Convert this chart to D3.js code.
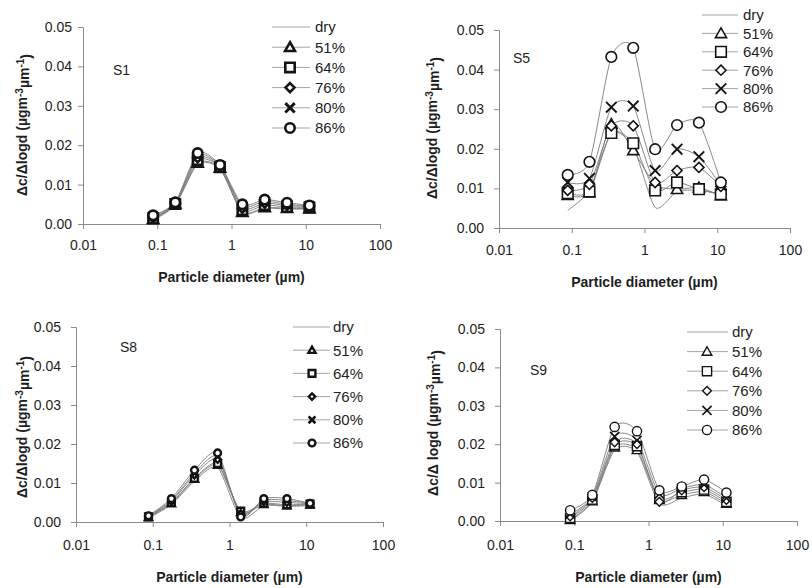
<!DOCTYPE html>
<html><head><meta charset="utf-8">
<script src="https://cdn.jsdelivr.net/npm/d3@7"></script>
<style>
html,body{margin:0;padding:0;background:#fff;}
svg{display:block;font-family:"Liberation Sans",Arial,sans-serif;}
</style></head>
<body>
<svg id="chart" width="812" height="588"></svg>
<script>
// ---------- DATA ----------
const diameters = [0.088, 0.175, 0.35, 0.7, 1.4, 2.8, 5.6, 11.2];
const seriesNames = ["dry", "51%", "64%", "76%", "80%", "86%"];
const xTickValues = [0.01, 0.1, 1, 10, 100];
const xTickLabels = ["0.01", "0.1", "1", "10", "100"];
const yTickValues = [0, 0.01, 0.02, 0.03, 0.04, 0.05];
const yTickLabels = ["0.00", "0.01", "0.02", "0.03", "0.04", "0.05"];
const panelNames = ["S1", "S5", "S8", "S9"];

const s1Values = [
  [0.0010, 0.0048, 0.0152, 0.0140, 0.0028, 0.0040, 0.0038, 0.0038],
  [0.0012, 0.0050, 0.0155, 0.0142, 0.0030, 0.0042, 0.0040, 0.0039],
  [0.0014, 0.0051, 0.0162, 0.0144, 0.0035, 0.0048, 0.0043, 0.0042],
  [0.0016, 0.0052, 0.0168, 0.0146, 0.0040, 0.0053, 0.0047, 0.0044],
  [0.0020, 0.0053, 0.0174, 0.0148, 0.0045, 0.0058, 0.0050, 0.0046],
  [0.0022, 0.0055, 0.0180, 0.0150, 0.0050, 0.0062, 0.0054, 0.0047]
];
const s5Values = [
  [0.0045, 0.0095, 0.0240, 0.0205, 0.0052, 0.0092, 0.0095, 0.0085],
  [0.0083, 0.0090, 0.0262, 0.0196, 0.0110, 0.0098, 0.0102, 0.0082],
  [0.0088, 0.0092, 0.0240, 0.0214, 0.0095, 0.0115, 0.0098, 0.0085],
  [0.0095, 0.0110, 0.0258, 0.0258, 0.0115, 0.0145, 0.0153, 0.0105],
  [0.0115, 0.0125, 0.0305, 0.0308, 0.0145, 0.0199, 0.0180, 0.0108],
  [0.0134, 0.0167, 0.0432, 0.0455, 0.0199, 0.0260, 0.0266, 0.0115]
];
const s8Values = [
  [0.0010, 0.0045, 0.0105, 0.0140, 0.0010, 0.0042, 0.0040, 0.0042],
  [0.0012, 0.0047, 0.0110, 0.0146, 0.0025, 0.0045, 0.0042, 0.0044],
  [0.0013, 0.0050, 0.0112, 0.0150, 0.0028, 0.0048, 0.0044, 0.0046],
  [0.0014, 0.0053, 0.0120, 0.0160, 0.0022, 0.0052, 0.0050, 0.0047],
  [0.0015, 0.0056, 0.0125, 0.0168, 0.0018, 0.0056, 0.0055, 0.0048],
  [0.0016, 0.0060, 0.0133, 0.0177, 0.0013, 0.0060, 0.0060, 0.0048]
];
const s9Values = [
  [0.0000, 0.0050, 0.0185, 0.0180, 0.0045, 0.0060, 0.0070, 0.0040],
  [0.0003, 0.0052, 0.0192, 0.0185, 0.0055, 0.0068, 0.0076, 0.0045],
  [0.0008, 0.0056, 0.0198, 0.0195, 0.0060, 0.0075, 0.0082, 0.0050],
  [0.0012, 0.0060, 0.0205, 0.0200, 0.0050, 0.0080, 0.0088, 0.0055],
  [0.0018, 0.0063, 0.0220, 0.0210, 0.0070, 0.0085, 0.0095, 0.0060],
  [0.0028, 0.0068, 0.0245, 0.0234, 0.0080, 0.0090, 0.0108, 0.0074]
];
const allValues = [s1Values, s5Values, s8Values, s9Values];

// ---------- LAYOUT ----------
const layouts = [
  {l:83, r:380, t:27, b:224, ylabOff:8, xlabY:23, titleY:53, ytx:22, yty:125, lab:[113,70],
   leg:{x1:272,x2:310,mx:290,tx:315,y0:27,dy:20.2}, ms:4.7, sw:2.6},
  {l:499, r:790, t:30, b:228, ylabOff:12, xlabY:24, titleY:54, ytx:432, yty:128, lab:[513,58],
   leg:{x1:702,x2:738,mx:721,tx:743,y0:15,dy:18.4}, ms:5.3, sw:1.6},
  {l:76, r:383, t:327, b:522, ylabOff:12, xlabY:25, titleY:55, ytx:22, yty:427, lab:[120,347],
   leg:{x1:293,x2:330,mx:312,tx:333,y0:327,dy:23.2}, ms:3.4, sw:2.4},
  {l:500, r:797, t:329, b:521, ylabOff:12, xlabY:26, titleY:56, ytx:433, yty:423, lab:[530,370],
   leg:{x1:687,x2:728,mx:707,tx:732,y0:332,dy:19.6}, ms:4.6, sw:1.4}
];

const svg = d3.select("#chart");
const txt = "#1e1e1e";

function markerPath(type, s){
  if(type===1) return `M0,${-s*1.05}L${s*1.05},${s*0.8}L${-s*1.05},${s*0.8}Z`;
  if(type===2) return `M${-s},${-s}H${s}V${s}H${-s}Z`;
  if(type===3) return `M0,${-s*0.95}L${s*0.95},0L0,${s*0.95}L${-s*0.95},0Z`;
  if(type===4) return `M${-s},${-s}L${s},${s}M${s},${-s}L${-s},${s}`;
  if(type===5) return `M${s},0A${s},${s} 0 1 1 ${-s},0A${s},${s} 0 1 1 ${s},0Z`;
  return "";
}

allValues.forEach((vals, pi) => {
  const L = layouts[pi];
  const g = svg.append("g");
  const x = d3.scaleLog().domain([0.01, 100]).range([L.l, L.r]);
  const y = d3.scaleLinear().domain([0, 0.05]).range([L.b, L.t]);

  // axes
  const xAxis = d3.axisBottom(x).tickValues(xTickValues).tickFormat((d,i)=>xTickLabels[i]).tickSize(5).tickPadding(L.xlabY-12);
  const yAxis = d3.axisLeft(y).tickValues(yTickValues).tickFormat((d,i)=>yTickLabels[i]).tickSize(5).tickPadding(L.ylabOff-2);
  const gx = g.append("g").attr("transform",`translate(0,${L.b})`).call(xAxis);
  const gy = g.append("g").attr("transform",`translate(${L.l},0)`).call(yAxis);
  [gx, gy].forEach(a => {
    a.select(".domain").attr("stroke","#8a8a8a").attr("stroke-width",1);
    a.selectAll(".tick line").attr("stroke","#8a8a8a");
    a.selectAll(".tick text").attr("fill",txt).attr("font-size",14);
  });

  // lines
  const line = d3.line().x((d,i)=>x(diameters[i])).y(d=>y(d)).curve(d3.curveCardinal.tension(0.3));
  vals.forEach((s, si) => {
    g.append("path").attr("d", line(s)).attr("fill","none")
      .attr("stroke","#7a7a7a").attr("stroke-width",0.9);
  });
  // markers
  vals.forEach((s, si) => {
    if(si===0) return;
    g.selectAll(null).data(s).enter().append("path")
      .attr("transform",(d,i)=>`translate(${x(diameters[i])},${y(d)})`)
      .attr("d", markerPath(si, L.ms))
      .attr("fill", si===4 ? "none" : "#fff")
      .attr("stroke","#141414").attr("stroke-width", si===4 ? L.sw+0.3 : L.sw);
  });

  // legend
  seriesNames.forEach((nm, si) => {
    const yy = L.leg.y0 + si*L.leg.dy;
    g.append("line").attr("x1",L.leg.x1).attr("x2",L.leg.x2).attr("y1",yy).attr("y2",yy)
      .attr("stroke","#9a9a9a").attr("stroke-width",0.9);
    if(si>0){
      g.append("path").attr("transform",`translate(${L.leg.mx},${yy})`)
        .attr("d", markerPath(si, L.ms)).attr("fill", si===4 ? "none" : "#fff")
        .attr("stroke","#141414").attr("stroke-width", si===4 ? L.sw+0.3 : L.sw);
    }
    g.append("text").attr("x",L.leg.tx).attr("y",yy).attr("dy","0.36em")
      .attr("font-size",15).attr("fill",txt).text(nm);
  });

  // panel label
  g.append("text").attr("x",L.lab[0]).attr("y",L.lab[1]).attr("dy","0.36em")
    .attr("font-size",14).attr("fill",txt).text(panelNames[pi]);

  // x title
  g.append("text").attr("x",(L.l+L.r)/2).attr("y",L.b+L.titleY).attr("dy","0.36em")
    .attr("text-anchor","middle").attr("font-size",14).attr("font-weight","bold").attr("fill",txt)
    .text("Particle diameter (\u00B5m)");

  // y title
  const yt = g.append("text").attr("transform",`translate(${L.ytx},${L.yty}) rotate(-90)`)
    .attr("text-anchor","middle").attr("dy","0.36em").attr("font-size",14)
    .attr("font-weight","bold").attr("fill",txt);
  yt.append("tspan").text(pi===3 ? "\u0394c/\u0394 logd (\u00B5gm" : "\u0394c/\u0394logd (\u00B5gm");
  yt.append("tspan").attr("dy","-0.45em").attr("font-size",10).text("-3");
  yt.append("tspan").attr("dy","0.45em").text("\u00B5m");
  yt.append("tspan").attr("dy","-0.45em").attr("font-size",10).text("-1");
  yt.append("tspan").attr("dy","0.45em").text(")");
});
</script>
</body></html>
